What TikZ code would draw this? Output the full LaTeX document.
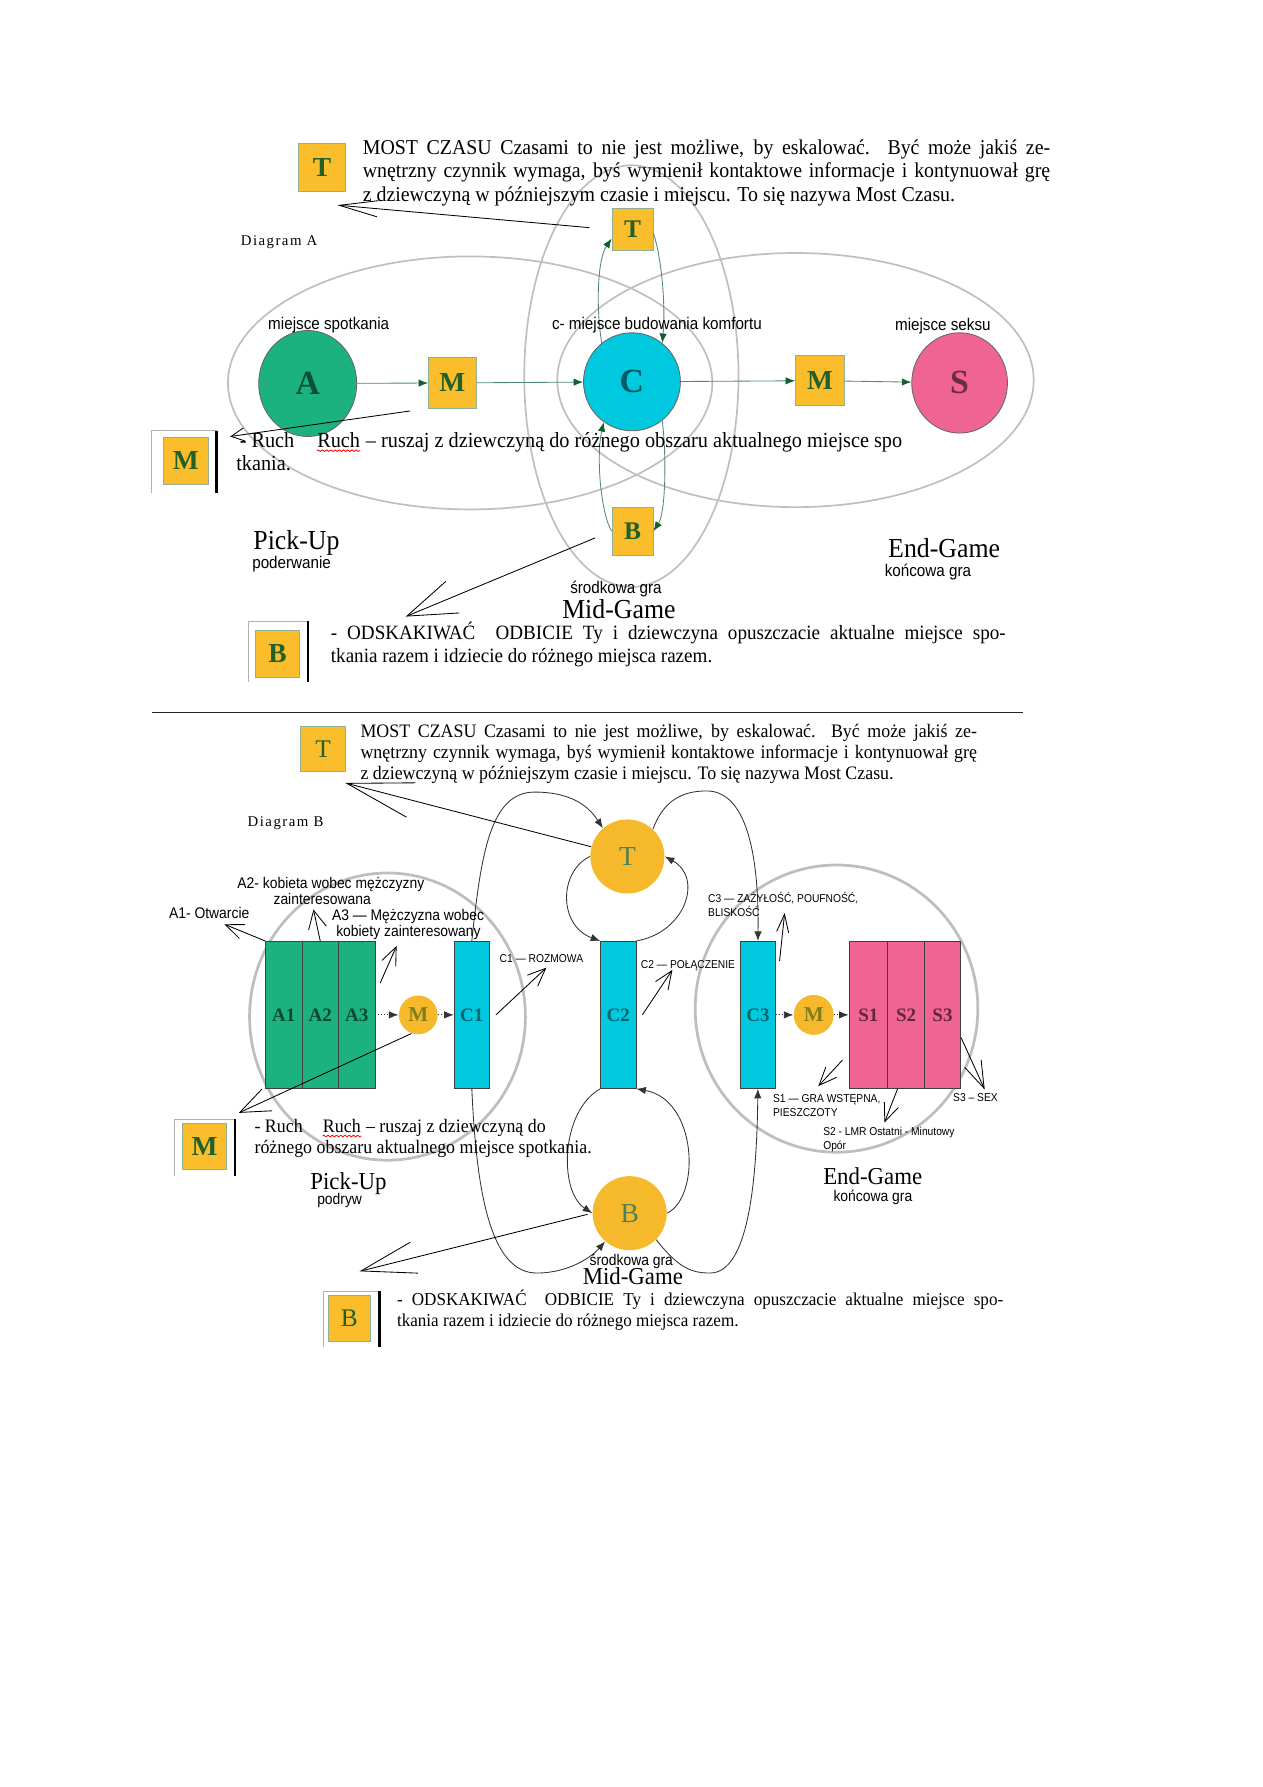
\documentclass[tikz,border=0pt]{standalone}
\usepackage{fontspec}
\setmainfont{Liberation Serif}
\newfontfamily\szeryf[FakeStretch=0.94]{Liberation Serif}
\newfontfamily\bezszer[FakeStretch=0.9]{Liberation Sans}
\newfontfamily\rozstrzel[LetterSpace=10]{Liberation Serif}
\usetikzlibrary{shapes.geometric, arrows.meta, decorations.pathmorphing}

\definecolor{zolty}{RGB}{250,190,45}
\definecolor{zoltyB}{RGB}{246,185,44}
\definecolor{zielony}{RGB}{28,178,128}
\definecolor{turkus}{RGB}{0,200,222}
\definecolor{rozowy}{RGB}{240,100,148}
\definecolor{litera}{RGB}{35,95,40}
\definecolor{oliwka}{RGB}{130,125,30}
\definecolor{szary}{RGB}{196,188,190}
\definecolor{szaryB}{RGB}{190,190,190}
\definecolor{linia}{RGB}{80,135,125}
\definecolor{grot}{RGB}{20,95,45}

\newcommand{\pxl}{0.018953cm}
\newcommand{\wiersz}[2]{\makebox[#1][s]{#2}}

\begin{document}
\begin{tikzpicture}[x=0.018953cm, y=-0.018953cm,
    wym/.style 2 args={minimum width=#1*\pxl, minimum height=#2*\pxl},
    kwadrat/.style={draw=litera!50, fill=zolty, inner sep=0pt, text=litera,
      font=\bfseries\fontsize{13}{13}\selectfont},
    kolo/.style={ellipse, draw=black!60, inner sep=0pt,
      font=\bfseries\fontsize{16}{16}\selectfont},
    krazek/.style={circle, fill=zoltyB, inner sep=0pt},
    slupek/.style={draw=black!75, inner sep=0pt, wym={32}{129},
      font=\bfseries\fontsize{9}{9}\selectfont},
    obwodA/.style={draw=szary, line width=0.8pt},
    obwodB/.style={draw=szaryB, line width=1.3pt},
    strzalA/.style={draw=linia, -{Latex[length=4.5pt, width=3.5pt, color=grot]}},
    strzalB/.style={draw=black!80, -{Latex[length=4.5pt, width=3.5pt]}},
    kropki/.style={draw=black!80, densely dotted, -{Latex[length=4.5pt, width=3.5pt]}},
    odnosnik/.style 2 args={draw=black, -{Straight Barb[length=#1, width=#2]}},
    akapit/.style={inner sep=0pt, anchor=base west, align=left},
    etap/.style={inner sep=0pt, anchor=base west},
    podpis/.style={etap, font=\bezszer\fontsize{8}{9}\selectfont},
    podpisB/.style={etap, font=\bezszer\fontsize{7.3}{7.6}\selectfont, align=left},
    drobny/.style={etap, align=left, font=\bezszer\fontsize{5.4}{6.6}\selectfont},
    fazaA/.style={etap, font=\szeryf\fontsize{13}{13}\selectfont},
    fazaB/.style={etap, font=\szeryf\fontsize{11.5}{11.5}\selectfont},
    tekstA/.style={etap, font=\szeryf\fontsize{10.2}{12}\selectfont},
    tekstB/.style={etap, font=\szeryf\fontsize{9}{10}\selectfont},
    fala/.style={draw=red, decorate, decoration={snake, amplitude=0.35pt, segment length=2pt}}]

    % 1. Tło strony
    \fill[white] (0,0) rectangle (1108,1568);
    \useasboundingbox (0,0) rectangle (1108,1568);

    % 2. Diagram A - elipsy obszarów
    \draw[obwodA] (412.5,336) ellipse [x radius=212.5, y radius=111];
    \draw[obwodA] (698,333.5) ellipse [x radius=209, y radius=111.5];
    \draw[obwodA] (554,330) ellipse [x radius=94, y radius=185];

    % 3. Diagram A - miejsca i ruchy
    \node[kolo, fill=zielony, wym={86}{93}, text=black!55!zielony] (AA) at (270,336.5) {A};
    \node[kwadrat, wym={42}{44}] (M1A) at (397,336) {M};
    \node[kolo, fill=turkus, wym={85}{86}, text=black!55!turkus] (CA) at (554.5,335) {C};
    \node[kwadrat, wym={43}{44}] (M2A) at (719.5,334) {M};
    \node[kolo, fill=rozowy, wym={84}{88}, text=black!55!rozowy] (SA) at (842,336) {S};
    \node[kwadrat, wym={36}{37}, font=\bfseries\fontsize{12}{12}\selectfont] (TA) at (555,201.5) {T};
    \node[kwadrat, wym={36}{42}, font=\bfseries\fontsize{12}{12}\selectfont] (BA) at (555,466) {B};

    \draw[strzalA] (AA) -- (M1A);
    \draw[strzalA] (M1A) -- (CA);
    \draw[strzalA] (CA) -- (M2A);
    \draw[strzalA] (M2A) -- (SA);
    \draw[strzalA] (CA.128) .. controls (523,270) and (524,228) .. (TA.203);
    \draw[strzalA] (TA.-10) .. controls (581,228) and (584,270) .. (CA.52);
    \draw[strzalA] (CA.-52) .. controls (585,400) and (584,450) .. (BA.east);
    \draw[strzalA] (BA.west) .. controls (527,450) and (523,400) .. (CA.235);

    % 4. Diagram A - legenda
    \node[kwadrat, wym={41}{42}] (TlegA) at (282.5,147) {T};
    \node[akapit, font=\szeryf\fontsize{10}{11.05}\selectfont] (opisTA) at (318,176.5)
      {\wiersz{11.43cm}{MOST CZASU Czasami to nie jest możliwe, by eskalować. Być może jakiś ze-}\\
       \wiersz{11.43cm}{wnętrzny czynnik wymaga, byś wymienił kontaktowe informacje i kontynuował grę}\\
       z dziewczyną w późniejszym czasie i miejscu. To się nazywa Most Czasu.};
    \coordinate (grotTA) at (296,180);
    \draw[odnosnik={0.64cm}{0.27cm}, shorten <=0.37cm] (TA.west) -- (grotTA);

    \node[etap, font=\rozstrzel\fontsize{7}{7}\selectfont] (diagA) at (211,215) {Diagram A};
    \node[podpis] (spotkanie) at (235,289) {miejsce spotkania};
    \node[podpis] (komfort) at (484,289) {c- miejsce budowania komfortu};
    \node[podpis] (seks) at (785,290) {miejsce seksu};

    \draw[black!30] (133,433) -- (133,378) -- (190,378);
    \draw[black, line width=1.1pt] (190,378) -- (190,433);
    \node[kwadrat, wym={40}{41}] (MlegA) at (163,404.5) {M};
    \node[tekstA] (ruchA1) at (210,392.5) {- Ruch};
    \node[tekstA] (ruchA2) at (278,392.5) {Ruch};
    \node[tekstA] (ruchA3) at (ruchA2.base east) {\ – ruszaj z dziewczyną do różnego obszaru aktualnego miejsce spo};
    \node[tekstA] (ruchA4) at (207,412.5) {tkania.};
    \draw[fala] ([yshift=-1.6pt]ruchA2.base west) -- ([yshift=-1.6pt]ruchA2.base east);
    \coordinate (grotMA) at (202,383);
    \draw[odnosnik={0.22cm}{0.22cm}, shorten <=0.3cm] (M1A.south west) -- (grotMA);

    \node[fazaA] (pickA) at (222,482) {Pick-Up};
    \node[podpis] (poderw) at (221,499) {poderwanie};
    \node[fazaA] (endA) at (779,489) {End-Game};
    \node[podpis] (koncA) at (776,506) {końcowa gra};
    \node[podpis] (srodA) at (500,521) {środkowa gra};
    \node[fazaA] (midA) at (493,543) {Mid-Game};

    \draw[black!30] (218,598) -- (218,545) -- (270,545);
    \draw[black, line width=1.1pt] (270,545) -- (270,598);
    \node[kwadrat, wym={39}{41}] (BlegA) at (243.5,573.5) {B};
    \node[akapit, font=\szeryf\fontsize{9.6}{10.8}\selectfont] (odbA) at (290,581.5)
      {\wiersz{11.22cm}{- ODSKAKIWAĆ\hspace{1em}ODBICIE Ty i dziewczyna opuszczacie aktualne miejsce spo-}\\
       tkania razem i idziecie do różnego miejsca razem.};
    \coordinate (grotBA) at (356,541);
    \draw[odnosnik={0.82cm}{0.57cm}, shorten <=0.3cm] (BA.west) -- (grotBA);

    % 5. Linia podziału
    \draw[black!85] (133,625) -- (898,625);

    % 6. Diagram B - okręgi obszarów
    \draw[obwodB] (340,892) ellipse [x radius=121, y radius=126];
    \draw[obwodB] (734,885) ellipse [x radius=124, y radius=126];

    % 7. Diagram B - etapy
    \node[slupek, fill=zielony, text=black!60!zielony] (A1) at (249,890.5) {A1};
    \node[slupek, fill=zielony, text=black!60!zielony] (A2) at (281,890.5) {A2};
    \node[slupek, fill=zielony, text=black!60!zielony] (A3) at (313,890.5) {A3};
    \node[krazek, wym={34}{34}, text=oliwka, font=\bfseries\fontsize{10}{10}\selectfont] (M1B) at (367,890.5) {M};
    \node[slupek, fill=turkus, wym={31}{129}, text=black!50!turkus] (C1) at (414,890.5) {C1};
    \node[slupek, fill=turkus, wym={31}{129}, text=black!50!turkus] (C2) at (542.5,890.5) {C2};
    \node[slupek, fill=turkus, wym={31}{129}, text=black!50!turkus] (C3) at (665,890.5) {C3};
    \node[krazek, wym={35}{35}, text=oliwka, font=\bfseries\fontsize{10}{10}\selectfont] (M2B) at (714,890.5) {M};
    \node[slupek, fill=rozowy, wym={34}{129}, text=black!60!rozowy] (S1) at (762,890.5) {S1};
    \node[slupek, fill=rozowy, text=black!60!rozowy] (S2) at (795,890.5) {S2};
    \node[slupek, fill=rozowy, text=black!60!rozowy] (S3) at (827,890.5) {S3};
    \node[krazek, wym={65}{65}, text=litera!80, font=\fontsize{13}{13}\selectfont] (TB) at (550.5,751.5) {T};
    \node[krazek, wym={65}{65}, text=litera!80, font=\fontsize{13}{13}\selectfont] (BB) at (552.5,1064.5) {B};

    \draw[kropki] (A3) -- (M1B);
    \draw[kropki] (M1B) -- (C1);
    \draw[kropki] (C3) -- (M2B);
    \draw[kropki] (M2B) -- (S1);

    % 8. Diagram B - przejścia przez T i B
    \draw[strzalB] (C1.north) .. controls (422,750) and (430,695) .. (469,695)
                              .. controls (498,695) and (515,705) .. (TB.131);
    \draw[strzalB] (TB.47) .. controls (582,703) and (598,694) .. (620,694)
                           .. controls (658,694) and (666,760) .. (C3.north);
    \draw[strzalB] (TB.west) .. controls (490,765) and (490,812) .. (C2.north west);
    \draw[strzalB] (C2.north east) .. controls (602,818) and (617,770) .. (TB.east);
    \draw[strzalB] (C2.south west) .. controls (492,975) and (490,1045) .. (BB.west);
    \draw[strzalB] (BB.east) .. controls (615,1050) and (612,965) .. (C2.south east);
    \draw[strzalB] (C1.south) .. controls (418,1045) and (430,1117) .. (471,1117)
                              .. controls (500,1117) and (520,1102) .. (BB.229);
    \draw[strzalB] (BB.-45) .. controls (595,1112) and (606,1117) .. (623,1117)
                            .. controls (656,1117) and (664,1040) .. (C3.south);

    % 9. Diagram B - opisy etapów
    \node[podpisB] (opisA2) at (208,794) {A2- kobieta wobec mężczyzny\\\hspace*{0.6cm}zainteresowana};
    \node[podpisB] (opisA1) at (148,806) {A1- Otwarcie};
    \node[podpisB] (opisA3) at (291,822) {A3 — Mężczyzna wobec\\\hspace*{0.07cm}kobiety zainteresowany};
    \node[drobny] (opisC1) at (438,844.5) {C1 — ROZMOWA};
    \node[drobny] (opisC2) at (562,849.5) {C2 — POŁĄCZENIE};
    \node[drobny] (opisC3) at (621,804.5) {C3 — ZAŻYŁOŚĆ, POUFNOŚĆ,\\BLISKOŚĆ};
    \node[drobny] (opisS1) at (678,979.5) {S1 — GRA WSTĘPNA,\\PIESZCZOTY};
    \node[drobny] (opisS2) at (722,1008.5) {S2 - LMR Ostatni - Minutowy\\Opór};
    \node[drobny] (opisS3) at (836,966.5) {S3 – SEX};

    \coordinate (grotA1) at (197,811);
    \coordinate (grotA2) at (275,798);
    \coordinate (grotA3) at (348,830);
    \coordinate (grotC1) at (479.5,849);
    \coordinate (grotC2) at (590,851);
    \coordinate (grotC3) at (688.5,801);
    \coordinate (grotS1) at (718,953);
    \coordinate (grotS2) at (776,985);
    \coordinate (grotS3) at (864,956);
    \draw[odnosnik={0.3cm}{0.25cm}] (A1.north west) -- (grotA1);
    \draw[odnosnik={0.3cm}{0.3cm}] (A2.north) -- (grotA2);
    \draw[odnosnik={0.3cm}{0.25cm}] ([shift={(0.08cm,0.53cm)}]A3.east) -- (grotA3);
    \draw[odnosnik={0.3cm}{0.25cm}] ([xshift=0.1cm]C1.east) -- (grotC1);
    \draw[odnosnik={0.3cm}{0.25cm}] ([xshift=0.1cm]C2.east) -- (grotC2);
    \draw[odnosnik={0.3cm}{0.2cm}] ([shift={(0.06cm,-0.33cm)}]C3.north east) -- (grotC3);
    \draw[odnosnik={0.3cm}{0.25cm}] ([shift={(-0.1cm,-0.75cm)}]S1.west) -- (grotS1);
    \draw[odnosnik={0.3cm}{0.25cm}] ([xshift=0.17cm]S2.south west) -- (grotS2);
    \draw[odnosnik={0.45cm}{0.3cm}] ([yshift=-0.38cm]S3.east) -- (grotS3);

    \node[etap, font=\rozstrzel\fontsize{7}{7}\selectfont] (diagB) at (217,725) {Diagram B};
    \node[fazaB] (pickB) at (272,1044) {Pick-Up};
    \node[podpisB] (podryw) at (278,1057) {podryw};
    \node[fazaB] (endB) at (722,1039) {End-Game};
    \node[podpisB] (koncB) at (731,1054) {końcowa gra};
    \node[podpisB] (srodB) at (517,1110) {środkowa gra};
    \node[fazaB] (midB) at (511,1127) {Mid-Game};

    % 10. Diagram B - legenda
    \node[kwadrat, wym={39}{40}, font=\fontsize{12}{12}\selectfont] (TlegB) at (283.5,657) {T};
    \node[akapit, font=\szeryf\fontsize{9}{9.96}\selectfont] (opisTB) at (316,684)
      {\wiersz{10.25cm}{MOST CZASU Czasami to nie jest możliwe, by eskalować. Być może jakiś ze-}\\
       \wiersz{10.25cm}{wnętrzny czynnik wymaga, byś wymienił kontaktowe informacje i kontynuował grę}\\
       z dziewczyną w późniejszym czasie i miejscu. To się nazywa Most Czasu.};
    \coordinate (grotTB) at (303,687);
    \draw[odnosnik={1.1cm}{0.59cm}] (TB.165) -- (grotTB);

    \draw[black!30] (153,1032) -- (153,982) -- (206,982);
    \draw[black, line width=1.1pt] (206,982) -- (206,1032);
    \node[kwadrat, wym={39}{40}] (MlegB) at (179.5,1006) {M};
    \node[tekstB] (ruchB1) at (223,994) {- Ruch};
    \node[tekstB] (ruchB2) at (283,994) {Ruch};
    \node[tekstB] (ruchB3) at (ruchB2.base east) {\ – ruszaj z dziewczyną do};
    \node[tekstB] (ruchB4) at (223,1012) {różnego obszaru aktualnego miejsce spotkania.};
    \draw[fala] ([yshift=-1.5pt]ruchB2.base west) -- ([yshift=-1.5pt]ruchB2.base east);
    \coordinate (grotMB) at (209.5,976.5);
    \draw[odnosnik={0.5cm}{0.4cm}] (M1B.250) -- (grotMB);

    \draw[black!30] (284,1182) -- (284,1133) -- (333,1133);
    \draw[black, line width=1.1pt] (333,1133) -- (333,1182);
    \node[kwadrat, wym={37}{40}, font=\fontsize{12}{12}\selectfont] (BlegB) at (306.5,1157) {B};
    \node[akapit, font=\szeryf\fontsize{8.6}{10.2}\selectfont] (odbB) at (348,1164)
      {\wiersz{10.08cm}{- ODSKAKIWAĆ\hspace{1em}ODBICIE Ty i dziewczyna opuszczacie aktualne miejsce spo-}\\
       tkania razem i idziecie do różnego miejsca razem.};
    \coordinate (grotBB) at (315.5,1115.5);
    \draw[odnosnik={0.91cm}{0.53cm}, shorten <=0.08cm] (BB.west) -- (grotBB);
\end{tikzpicture}
\end{document}
